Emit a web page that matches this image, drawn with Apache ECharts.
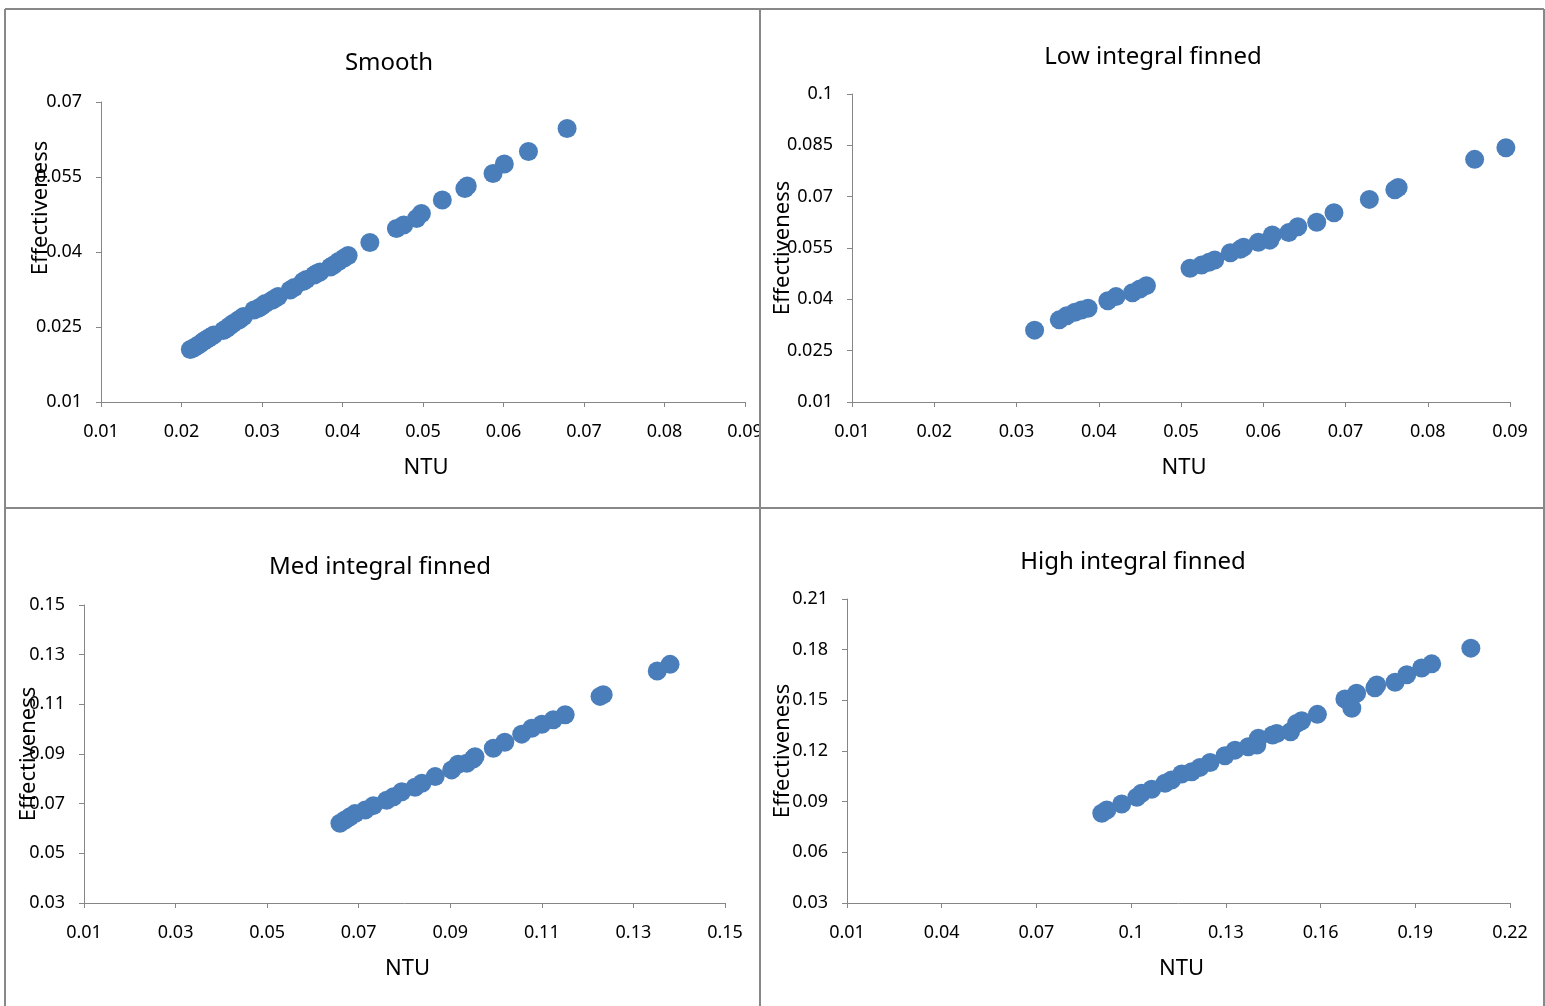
<!DOCTYPE html>
<html>
<head>
<meta charset="utf-8">
<title>Effectiveness vs NTU</title>
<script src="https://cdn.jsdelivr.net/npm/echarts@6/dist/echarts.min.js"></script>
<style>
  html, body { margin: 0; padding: 0; background: #fff; }
  #chart { width: 1545px; height: 1006px; }
</style>
</head>
<body>
<div id="chart"></div>
<script>
// values
const smoothNtu = [0.0211, 0.0215, 0.0219, 0.0223, 0.0227, 0.0230, 0.0233, 0.0236, 0.0240, 0.0252, 0.0256, 0.0260, 0.0264,
  0.0270, 0.0273, 0.0277, 0.0290, 0.0295, 0.0300, 0.0304, 0.0312, 0.0316, 0.0320, 0.0335, 0.0340, 0.0351, 0.0355,
  0.0365, 0.0368, 0.0372, 0.0385, 0.0389, 0.0395, 0.0402, 0.0407, 0.0434, 0.0467, 0.0476, 0.0492, 0.0498, 0.0524,
  0.0552, 0.0555, 0.0587, 0.0601, 0.0631, 0.0679]
const smoothEff = [0.0205, 0.0208, 0.0212, 0.0216, 0.0221, 0.0224, 0.0227, 0.0230, 0.0234, 0.0243, 0.0247, 0.0252, 0.0257,
  0.0263, 0.0266, 0.0271, 0.0284, 0.0287, 0.0292, 0.0297, 0.0303, 0.0307, 0.0311, 0.0324, 0.0329, 0.0341, 0.0345,
  0.0354, 0.0357, 0.0360, 0.0370, 0.0374, 0.0381, 0.0388, 0.0393, 0.0419, 0.0447, 0.0454, 0.0467, 0.0477, 0.0504,
  0.0527, 0.0532, 0.0557, 0.0576, 0.0601, 0.0647]

const lowNtu = [0.0322, 0.0352, 0.0361, 0.0371, 0.0379, 0.0387, 0.0411, 0.0421, 0.0441, 0.0450, 0.0458, 0.0511, 0.0525,
  0.0534, 0.0541, 0.0560, 0.0572, 0.0576, 0.0594, 0.0608, 0.0611, 0.0631, 0.0642, 0.0665, 0.0686, 0.0729, 0.0760,
  0.0764, 0.0857, 0.0895]
const lowEff = [0.0310, 0.0340, 0.0352, 0.0362, 0.0369, 0.0374, 0.0396, 0.0408, 0.0419, 0.0430, 0.0440, 0.0491, 0.0500,
  0.0508, 0.0515, 0.0536, 0.0546, 0.0552, 0.0567, 0.0573, 0.0588, 0.0595, 0.0612, 0.0625, 0.0653, 0.0692, 0.0720,
  0.0727, 0.0809, 0.0843]

const medNtu = [0.0659, 0.0670, 0.0681, 0.0692, 0.0714, 0.0732, 0.0761, 0.0776, 0.0794, 0.0823, 0.0838, 0.0867, 0.0903,
  0.0917, 0.0936, 0.0950, 0.0954, 0.0994, 0.1019, 0.1056, 0.1078, 0.1100, 0.1125, 0.1151, 0.1227, 0.1234, 0.1352,
  0.1380]
const medEff = [0.0621, 0.0634, 0.0647, 0.0660, 0.0674, 0.0692, 0.0714, 0.0728, 0.0748, 0.0766, 0.0782, 0.0809, 0.0836,
  0.0859, 0.0863, 0.0880, 0.0889, 0.0923, 0.0947, 0.0980, 0.1004, 0.1020, 0.1038, 0.1058, 0.1132, 0.1139, 0.1234,
  0.1261]

const highNtu = [0.0907, 0.0923, 0.0970, 0.1018, 0.1033, 0.1065, 0.1107, 0.1128, 0.1160, 0.1192, 0.1218, 0.1250, 0.1297,
  0.1329, 0.1371, 0.1398, 0.1403, 0.1448, 0.1461, 0.1505, 0.1524, 0.1540, 0.1590, 0.1677, 0.1693, 0.1699, 0.1714,
  0.1772, 0.1778, 0.1836, 0.1873, 0.1920, 0.1952, 0.2076]
const highEff = [0.0831, 0.0851, 0.0886, 0.0926, 0.0950, 0.0973, 0.1009, 0.1028, 0.1064, 0.1077, 0.1103, 0.1132, 0.1172,
  0.1205, 0.1225, 0.1235, 0.1275, 0.1295, 0.1304, 0.1314, 0.1363, 0.1379, 0.1417, 0.1508, 0.1492, 0.1453, 0.1542,
  0.1575, 0.1591, 0.1607, 0.1651, 0.1691, 0.1716, 0.1809]

// axis ranges: [first tick, step, number of steps]
const smoothXTicks = [0.01, 0.01, 8]
const smoothYTicks = [0.01, 0.015, 4]
const lowXTicks = [0.01, 0.01, 8]
const lowYTicks = [0.01, 0.015, 6]
const medXTicks = [0.01, 0.02, 7]
const medYTicks = [0.03, 0.02, 6]
const highXTicks = [0.01, 0.03, 7]
const highYTicks = [0.03, 0.03, 6]

const titles = ['Smooth', 'Low integral finned', 'Med integral finned', 'High integral finned']

const FONT = 'Noto Sans'
const AXIS_GREY = '#868686'
const DOT = '#4a7ebb'

const panels = [
  { x: smoothNtu, y: smoothEff, xt: smoothXTicks, yt: smoothYTicks,
    grid: { left: 101, top: 102, width: 644, height: 300 }, title: [389, 51], yGap: 49, yShift: 88 },
  { x: lowNtu, y: lowEff, xt: lowXTicks, yt: lowYTicks,
    grid: { left: 852, top: 94, width: 658, height: 308 }, title: [1153, 45], yGap: 58, yShift: 0 },
  { x: medNtu, y: medEff, xt: medXTicks, yt: medYTicks,
    grid: { left: 84, top: 605, width: 641, height: 298 }, title: [380, 555], yGap: 44, yShift: 0 },
  { x: highNtu, y: highEff, xt: highXTicks, yt: highYTicks,
    grid: { left: 847, top: 599, width: 663, height: 304 }, title: [1133, 550], yGap: 53, yShift: 0 }
]

// axes run from 0, values are shifted by the first tick so the ticks land on the labels
const makeAxis = (gridIndex, ticks, extra) => {
  const [start, step, count] = ticks
  return Object.assign({
    type: 'value',
    gridIndex,
    min: 0,
    max: +(step * count).toFixed(6),
    interval: step,
    nameMoveOverlap: false,
    axisLine: { show: true, lineStyle: { color: AXIS_GREY, width: 1 } },
    axisTick: { show: true, length: 5, lineStyle: { color: AXIS_GREY, width: 1 } },
    splitLine: { show: false },
    axisLabel: {
      color: '#000',
      fontSize: 18,
      fontFamily: FONT,
      formatter: v => String(+(v + start).toFixed(4))
    },
    nameTextStyle: { color: '#000', fontSize: 22, fontFamily: FONT }
  }, extra)
}

const getOption = () => {
  let grids = []
  let xAxes = []
  let yAxes = []
  let series = []
  let titleList = []

  panels.forEach((p, i) => {
    grids.push(Object.assign({ containLabel: false }, p.grid))
    xAxes.push(makeAxis(i, p.xt, {
      name: 'NTU',
      nameLocation: 'middle',
      nameGap: 55,
      nameTextStyle: { color: '#000', fontSize: 22, fontFamily: FONT, padding: [0, 0, 0, 6] }
    }))
    xAxes[i].axisLabel.margin = 21
    yAxes.push(makeAxis(i, p.yt, {
      name: 'Effectiveness',
      nameLocation: 'middle',
      nameGap: p.yGap,
      nameTextStyle: { color: '#000', fontSize: 22, fontFamily: FONT, padding: [0, 0, 0, p.yShift] }
    }))
    yAxes[i].axisLabel.margin = 19
    series.push({
      type: 'scatter',
      xAxisIndex: i,
      yAxisIndex: i,
      symbol: 'circle',
      symbolSize: 19,
      itemStyle: { color: DOT, opacity: 1 },
      data: p.x.map((v, k) => [v - p.xt[0], p.y[k] - p.yt[0]])
    })
    titleList.push({
      text: titles[i],
      left: p.title[0],
      top: p.title[1],
      textAlign: 'center',
      padding: 0,
      textStyle: { color: '#000', fontSize: 24, fontWeight: 'normal', fontFamily: FONT }
    })
  })

  const line = (x1, y1, x2, y2) => ({
    type: 'line', z: 100,
    shape: { x1, y1, x2, y2 },
    style: { stroke: '#888', lineWidth: 2 }
  })

  return {
    backgroundColor: '#fff',
    animation: false,
    title: titleList,
    grid: grids,
    xAxis: xAxes,
    yAxis: yAxes,
    series,
    graphic: [
      // the right panel hides the tail of the first panel's last x label
      { type: 'rect', z: 99, shape: { x: 761, y: 415, width: 14, height: 32 }, style: { fill: '#fff' } },
      line(5, 9, 1544, 9),
      line(5, 9, 5, 1006),
      line(1544, 9, 1544, 1006),
      line(760, 9, 760, 1006),
      line(5, 508, 1544, 508)
    ]
  }
}

window.addEventListener('load', () => {
  const chart = echarts.init(document.getElementById('chart'))
  chart.setOption(getOption())
})
</script>
</body>
</html>
